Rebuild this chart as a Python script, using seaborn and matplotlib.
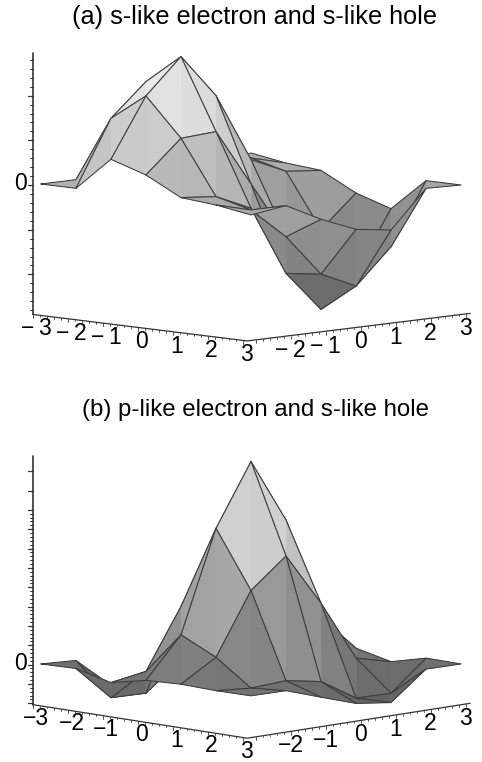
import numpy as np
import matplotlib
matplotlib.use("Agg")
import matplotlib.pyplot as plt
import seaborn as sns
from mpl_toolkits.mplot3d import proj3d
from mpl_toolkits.mplot3d.art3d import Poly3DCollection

# heights, rows are x = -3..3, columns are y = -3..3
GRID = [-3, -2, -1, 0, 1, 2, 3]
Z_A = [
    [0, 0, 112, 97, 54, 0, 15],
    [0, 197, 294, 244, 119, 26, -2],
    [100, 277, 382, 252, 47, -1, -11],
    [66, 163, 170, 0, -170, -163, -66],
    [11, 1, -47, -255, -376, -277, -100],
    [2, -26, -119, -244, -293, -188, -3],
    [-15, 0, -54, -97, -112, 0, -3],
]
Z_B = [
    [-2, -8, -99, -92, -64, -34, -41],
    [1, -103, -106, -23, -24, -37, -34],
    [-25, -8, 170, 351, 237, 46, -25],
    [-2, 118, 421, 605, 413, 104, -4],
    [3, 67, 251, 338, 180, -1, -28],
    [0, -9, -3, -22, -88, -90, -1],
    [1, 0, -36, -71, -85, -1, -2],
]
TITLE_A = "(a) s-like electron and s-like hole"
TITLE_B = "(b) p-like electron and s-like hole"
TICKS_A_LEFT = ["\u2212\u20093", "\u2212\u20092", "\u2212\u20091", "0", "1", "2", "3"]
TICKS_A_RIGHT = ["", "\u2212\u20092", "\u2212\u20091", "0", "1", "2", "3"]
TICKS_B_LEFT = ["\u22123", "\u22122", "\u22121", "0", "1", "2", "3"]
TICKS_B_RIGHT = ["", "\u22122", "\u22121", "0", "1", "2", "3"]

W, H = 482, 762
EDGE = "#3c3c3c"
AXIS = "#333333"
AX_SIZE = 592
AX_ZOOM = 0.9
LIM = 3.2
END = 3.13
FRONT = -3.24
TICK_FONT = 16.5

sns.set_theme(style="white")
plt.rcParams["font.family"] = ["Liberation Sans", "DejaVu Sans"]
gray = sns.color_palette("gray", as_cmap=True)


def shade(tri, quad, lo, hi):
    # the two halves of a facet differ only a little
    v = 0.5 * np.mean(tri) + 0.5 * np.mean(quad)
    n = (v - lo) / (hi - lo)
    return gray(0.36 + 0.62 * n)


def draw_surface(ax, z):
    z = np.array(z, dtype=float)
    lo, hi = z.min(), z.max()
    quads = [(i, j) for i in range(6) for j in range(6)]
    # far quads first, so the near ones paint over them
    quads.sort(key=lambda q: q[0] - q[1])
    for order, (i, j) in enumerate(quads):
        pts = [(i, j), (i + 1, j), (i + 1, j + 1), (i, j + 1)]
        p3 = [(GRID[a], GRID[b], z[a, b]) for a, b in pts]
        # left and right half of the diamond, split on the vertical diagonal
        left = [p3[0], p3[1], p3[3]]
        right = [p3[1], p3[2], p3[3]]
        heights = [p[2] for p in p3]
        cols = [shade([p[2] for p in left], heights, lo, hi),
                shade([p[2] for p in right], heights, lo, hi)]
        tris = Poly3DCollection([left, right], facecolors=cols, edgecolors=cols, linewidths=0.3)
        tris.set_zorder(10 + order)
        ax.add_collection3d(tris)
        loop = p3 + [p3[0]]
        ax.plot([p[0] for p in loop], [p[1] for p in loop], [p[2] for p in loop],
                color=EDGE, lw=0.75, zorder=10.5 + order)


def draw_axes(ax, zbot, ztop, zmajor, zminor):
    ax.plot([-3, END, END], [FRONT, FRONT, END], [zbot, zbot, zbot], color=AXIS, lw=0.9, zorder=2)
    ax.plot([-3, -3], [FRONT, FRONT], [zbot, ztop], color=AXIS, lw=1.2, zorder=2)

    # ticks on the two floor axes
    for v in np.arange(-3, 3.01, 0.2):
        is_major = abs(v - round(v)) < 1e-6
        n = 10 if is_major else 5
        ax.plot([v, v], [FRONT, FRONT], [zbot, zbot - n], color=AXIS, lw=0.6, zorder=2)
        ax.plot([END, END], [v, v], [zbot, zbot - n], color=AXIS, lw=0.6, zorder=2)

    for v in np.arange(-40, 41) * zminor:
        if zbot <= v <= ztop:
            ax.plot([-3, -3 - 0.04], [FRONT, FRONT - 0.04], [v, v], color=AXIS, lw=0.7, zorder=2)
    for v in np.arange(-10, 11) * zmajor:
        if zbot <= v <= ztop:
            ax.plot([-3, -3 - 0.07], [FRONT, FRONT - 0.07], [v, v], color=AXIS, lw=0.9, zorder=2)


def put_label(ax, x, y, z, s):
    # 2d text at the projected spot of a 3d point
    u, v, _ = proj3d.proj_transform(x, y, z, ax.get_proj())
    if s:
        ax.text2D(u, v, s, transform=ax.transData, ha="center", va="center",
                  fontsize=TICK_FONT, color="black")


def draw_labels(ax, zbot, left_labels, right_labels, drop):
    for v, s in zip(GRID, left_labels):
        put_label(ax, v, -END, zbot - drop, s)
    for v, s in zip(GRID, right_labels):
        put_label(ax, END, v, zbot - drop, s)
    put_label(ax, -END - 0.157, -END - 0.157, 0, "0")


def add_panel(fig, cx, cy, elev, zhalf):
    # (0, 0, 0) of the 3d box lands on pixel (cx, cy)
    left = cx - 0.5135 * AX_SIZE
    bottom = H - cy - 0.5135 * AX_SIZE
    ax = fig.add_axes([left / W, bottom / H, AX_SIZE / W, AX_SIZE / H], projection="3d")
    ax.set_proj_type("ortho")
    ax.view_init(elev=elev, azim=-45)
    ax.set_box_aspect((1, 1, 1), zoom=AX_ZOOM)
    ax.computed_zorder = False
    ax.set_axis_off()
    ax.patch.set_alpha(0)
    return ax, zhalf


fig = plt.figure(figsize=(W / 100, H / 100), dpi=100)
fig.patch.set_facecolor("white")

ax_a, zh_a = add_panel(fig, 251, 184, 7.1, 471.5)
draw_surface(ax_a, Z_A)
draw_axes(ax_a, -388, 397, 134, 26.8)

ax_b, zh_b = add_panel(fig, 251, 663.3, 9.0, 469.3)
draw_surface(ax_b, Z_B)
draw_axes(ax_b, -120, 625, 58, 11.6)

for ax, zh in [(ax_a, zh_a), (ax_b, zh_b)]:
    ax.set_xlim(-LIM, LIM, view_margin=0)
    ax.set_ylim(-LIM, LIM, view_margin=0)
    ax.set_zlim(-zh, zh, view_margin=0)

draw_labels(ax_a, -388, TICKS_A_LEFT, TICKS_A_RIGHT, 45)
draw_labels(ax_b, -120, TICKS_B_LEFT, TICKS_B_RIGHT, 43)

fig.text(254 / W, 1 - 17 / H, TITLE_A, ha="center", va="center", fontsize=18.2, color="black")
fig.text(255 / W, 1 - 410 / H, TITLE_B, ha="center", va="center", fontsize=17.3, color="black")

fig.savefig("out.png", dpi=100)
